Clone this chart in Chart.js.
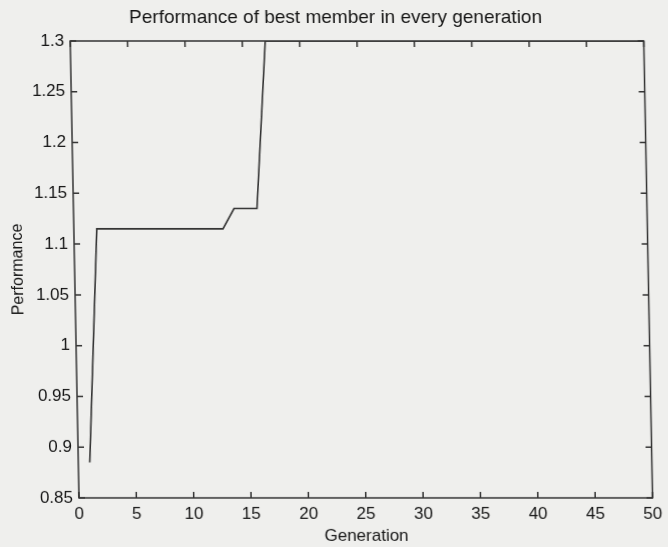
<!DOCTYPE html>
<html>
<head>
<meta charset="utf-8">
<script src="https://cdn.jsdelivr.net/npm/chart.js@4/dist/chart.umd.min.js"></script>
<style>
  html, body { margin: 0; padding: 0; background: #efefed; overflow: hidden; }
  #wrap { width: 668px; height: 547px; }
  /* the scan is slightly sheared: top edge sits ~9px left of the bottom */
  #chart { transform: skewX(1.1deg); transform-origin: 0 498px; }
</style>
</head>
<body>
<div id="wrap"><canvas id="chart" width="668" height="547"></canvas></div>
<script>
"use strict";

// best performance per generation
const bestPerf = [
    0.885, 1.115, 1.115, 1.115, 1.115, 1.115, 1.115, 1.115, 1.115, 1.115,
    1.115, 1.115, 1.115, 1.135, 1.135, 1.135, 1.3, 1.3, 1.3, 1.3,
    1.3, 1.3, 1.3, 1.3, 1.3, 1.3, 1.3, 1.3, 1.3, 1.3,
    1.3, 1.3, 1.3, 1.3, 1.3, 1.3, 1.3, 1.3, 1.3, 1.3,
    1.3, 1.3, 1.3, 1.3, 1.3, 1.3, 1.3, 1.3, 1.3, 1.3
];
const generations = bestPerf.map((_, i) => i + 1);
const xTicks = [0, 5, 10, 15, 20, 25, 30, 35, 40, 45, 50];
const yTicks = [0.85, 0.9, 0.95, 1, 1.05, 1.1, 1.15, 1.2, 1.25, 1.3];
const titleText = 'Performance of best member in every generation';

const INK = '#161616';
const AXIS = '#333';
const FONT = "'Liberation Sans', Arial, sans-serif";

// matlab-ish box with inward ticks on all four sides, plus the title
const boxTicks = {
    id: 'boxTicks',
    afterDraw(chart) {
        const { ctx, chartArea: a, scales } = chart;
        const len = 6;
        ctx.save();
        ctx.strokeStyle = AXIS;
        ctx.lineWidth = 1.5;
        ctx.strokeRect(a.left, a.top, a.right - a.left, a.bottom - a.top);
        ctx.beginPath();
        xTicks.forEach(v => {
            const px = scales.x.getPixelForValue(v);
            ctx.moveTo(px, a.bottom); ctx.lineTo(px, a.bottom - len);
            ctx.moveTo(px, a.top); ctx.lineTo(px, a.top + len);
        });
        yTicks.forEach(v => {
            const py = scales.y.getPixelForValue(v);
            ctx.moveTo(a.left, py); ctx.lineTo(a.left + len, py);
            ctx.moveTo(a.right, py); ctx.lineTo(a.right - len, py);
        });
        ctx.stroke();

        // title sits a bit left of the axes centre in the scan
        ctx.fillStyle = INK;
        ctx.font = '19px ' + FONT;
        ctx.textAlign = 'center';
        ctx.textBaseline = 'middle';
        ctx.fillText(titleText, (a.left + a.right) / 2 - 21, a.top - 23);
        ctx.restore();
    }
};

new Chart(document.getElementById('chart'), {
    type: 'line',
    data: {
        datasets: [{
            data: generations.map((g, i) => ({ x: g, y: bestPerf[i] })),
            borderColor: '#333',
            borderWidth: 1.6,
            pointRadius: 0,
            tension: 0,
            fill: false
        }]
    },
    options: {
        responsive: false,
        animation: false,
        layout: { padding: { left: 0, right: 12, top: 41, bottom: 0 } },
        plugins: {
            legend: { display: false },
            tooltip: { enabled: false },
            title: { display: false }
        },
        scales: {
            x: {
                type: 'linear',
                min: 0,
                max: 50,
                afterBuildTicks: (s) => { s.ticks = xTicks.map(v => ({ value: v })); },
                afterFit: (s) => { s.height = 49; },
                grid: { display: false, drawTicks: false },
                border: { display: false },
                ticks: { color: INK, font: { family: FONT, size: 17 }, padding: 6, maxRotation: 0 },
                title: {
                    display: true,
                    text: 'Generation',
                    color: INK,
                    font: { family: FONT, size: 17 },
                    padding: { top: 0, bottom: 0 }
                }
            },
            y: {
                min: 0.85,
                max: 1.3,
                afterBuildTicks: (s) => { s.ticks = yTicks.map(v => ({ value: v })); },
                afterFit: (s) => { s.width = 79; },
                grid: { display: false, drawTicks: false },
                border: { display: false },
                ticks: {
                    color: INK,
                    font: { family: FONT, size: 17 },
                    padding: 6,
                    callback: (v) => String(parseFloat(Number(v).toFixed(2)))
                },
                title: {
                    display: true,
                    text: 'Performance',
                    color: INK,
                    font: { family: FONT, size: 16 },
                    padding: { top: 13, bottom: 0 }
                }
            }
        }
    },
    plugins: [boxTicks]
});
</script>
</body>
</html>
